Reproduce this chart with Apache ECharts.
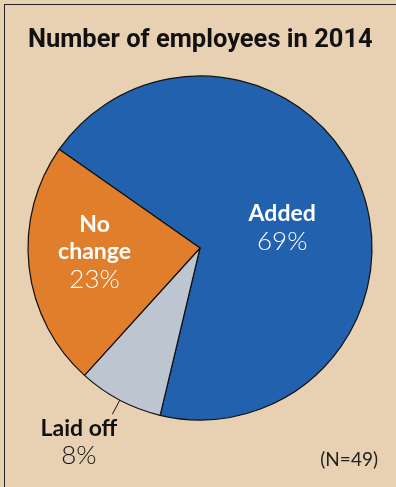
<!DOCTYPE html>
<html>
<head>
<meta charset="utf-8">
<script src="https://cdn.jsdelivr.net/npm/echarts@6/dist/echarts.min.js"></script>
<style>
  html, body { margin: 0; padding: 0; background: #e8d1b3; }
  #wrap { position: relative; width: 396px; height: 487px; overflow: hidden; }
  #frame { position: absolute; left: 4px; top: 4px; right: -4px; bottom: -4px;
           border-left: 1.5px solid #222; border-top: 1.5px solid #222; pointer-events: none; }
  #chart { position: absolute; left: 0; top: 0; width: 396px; height: 487px; }
</style>
</head>
<body>
<div id="wrap">
  <div id="chart"></div>
  <div id="frame"></div>
</div>
<script>
// Employee headcount change in 2014, share of respondents
const categories = ['Added', 'Laid off', 'No change'];
const shares = [69, 8, 23];
const sliceColors = ['#2161ae', '#bdc5d1', '#e07e2b'];
const sampleNote = '(N=49)';
const titleText = 'Number of employees in 2014';

// label nudges relative to the library's default label anchor
const labelShift = {
  'Added': { dx: -1, dy: 12 },
  'No change': { dx: -17, dy: -5 },
  'Laid off': { dx: 10, dy: 28 }
};

const chart = echarts.init(document.getElementById('chart'), null, { renderer: 'canvas' });

const data = categories.map((name, i) => {
  const inside = name !== 'Laid off';
  return {
    name: name,
    value: shares[i],
    itemStyle: { color: sliceColors[i] },
    label: inside ? {
      position: 'inside',
      formatter: name === 'No change' ? '{b|No}\n{b|change}\n{p|{c}%}' : '{b|{b}}\n{p|{c}%}',
      rich: {
        b: { color: '#fff', fontSize: 23, fontWeight: 'bold', fontFamily: 'Lato', lineHeight: 27, align: 'center' },
        p: { color: '#fff', fontSize: 26, fontWeight: 300, fontFamily: 'Lato', lineHeight: 29, align: 'center' }
      }
    } : {
      position: 'outside',
      formatter: '{b|{b}}\n{p|{c}%}',
      rich: {
        b: { color: '#111', fontSize: 23, fontWeight: 'bold', fontFamily: 'Lato', lineHeight: 27, align: 'center' },
        p: { color: '#111', fontSize: 26, fontWeight: 300, fontFamily: 'Lato', lineHeight: 27, align: 'center' }
      }
    },
    labelLine: inside ? { show: false } : {
      show: true, length: 16, length2: 0,
      lineStyle: { color: '#111', width: 1 }
    }
  };
});

chart.setOption({
  backgroundColor: 'transparent',
  animation: false,
  title: [{
    text: titleText,
    left: 23,
    top: 23,
    textStyle: { fontFamily: 'Roboto', fontWeight: 'bold', fontSize: 25.5, color: '#111' }
  }, {
    text: sampleNote,
    right: 13,
    bottom: 13,
    textStyle: { fontFamily: 'Lato', fontWeight: 'normal', fontSize: 19, color: '#222' }
  }],
  series: [{
    type: 'pie',
    center: [200, 248],
    radius: 172,
    startAngle: 145,
    clockwise: true,
    data: data,
    itemStyle: { borderColor: '#111', borderWidth: 1.2 },
    label: { show: true },
    labelLayout: function (params) {
      const s = labelShift[categories[params.dataIndex]];
      return s ? { dx: s.dx, dy: s.dy } : {};
    },
    emphasis: { disabled: true }
  }]
});
</script>
</body>
</html>
